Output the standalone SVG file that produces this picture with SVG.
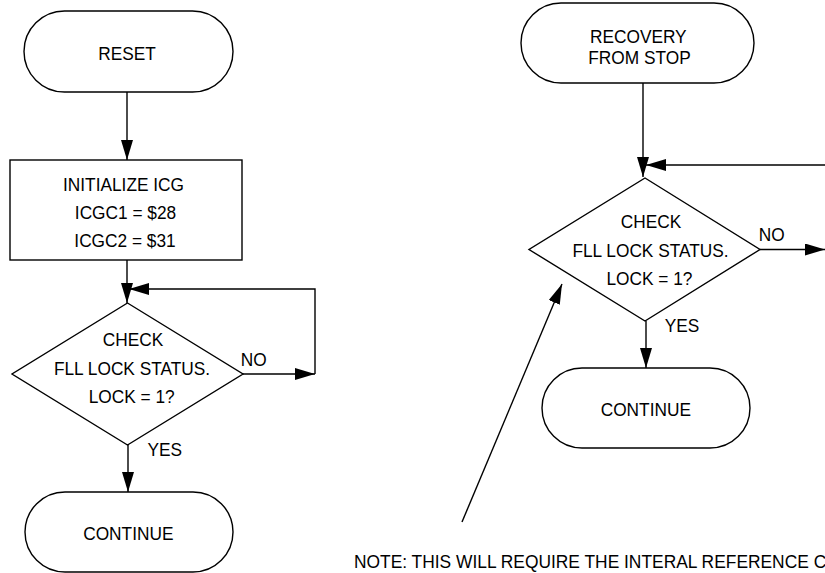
<svg xmlns="http://www.w3.org/2000/svg" width="825" height="573" viewBox="0 0 825 573">
<style>
.sh{fill:#fff;stroke:#000;stroke-width:1.4}
.ln{fill:none;stroke:#000;stroke-width:1.4}
text{font-family:"Liberation Sans",Arial,Helvetica,sans-serif;font-size:19px;fill:#000;text-anchor:middle}
.l{text-anchor:start}
</style>
<defs>
<marker id="ah" viewBox="0 0 20 12" refX="20" refY="6" markerWidth="20" markerHeight="12" markerUnits="userSpaceOnUse" orient="auto">
<path d="M0,0 L20,6 L0,12 Z" fill="#000"/>
</marker>
</defs>
<rect width="825" height="573" fill="#fff"/>
<g id="connectors">
<path class="ln" d="M127,92 V160" marker-end="url(#ah)"/>
<path class="ln" d="M127,260 V303" marker-end="url(#ah)"/>
<path class="ln" d="M243,374 H315" marker-end="url(#ah)"/>
<path class="ln" d="M315,374 V289 H129" marker-end="url(#ah)"/>
<path class="ln" d="M128,445 V492" marker-end="url(#ah)"/>
<path class="ln" d="M643,83 V177" marker-end="url(#ah)"/>
<path class="ln" d="M825,165 H646" marker-end="url(#ah)"/>
<path class="ln" d="M760,249.5 H825" marker-end="url(#ah)"/>
<path class="ln" d="M646,321 V368" marker-end="url(#ah)"/>
<path class="ln" d="M462,522 L562,284" marker-end="url(#ah)"/>
</g>
<g id="reset">
<rect class="sh" x="24" y="11" width="209" height="81" rx="40.5" ry="40.5"/>
<text transform="translate(127,60) scale(0.91,1)">RESET</text>
</g>
<g id="init">
<rect class="sh" x="10" y="160" width="232" height="100"/>
<text transform="translate(123.5,190.5) scale(0.91,1)">INITIALIZE ICG</text>
<text transform="translate(125.5,218.5) scale(0.91,1)">ICGC1 = $28</text>
<text transform="translate(125,246.5) scale(0.91,1)">ICGC2 = $31</text>
</g>
<g id="check1">
<polygon class="sh" points="127.5,303 243,374 127.5,445 12,374"/>
<text transform="translate(133,346) scale(0.91,1)">CHECK</text>
<text transform="translate(132,374.5) scale(0.91,1)">FLL LOCK STATUS.</text>
<text transform="translate(131.7,402.5) scale(0.91,1)">LOCK = 1?</text>
</g>
<g id="labels1">
<text transform="translate(253.7,365.5) scale(0.91,1)">NO</text>
<text transform="translate(164.7,455.5) scale(0.91,1)">YES</text>
</g>
<g id="continue1">
<rect class="sh" x="25" y="492" width="208" height="80" rx="40" ry="40"/>
<text transform="translate(128.3,539.5) scale(0.91,1)">CONTINUE</text>
</g>
<g id="recovery">
<rect class="sh" x="521" y="3" width="233" height="80" rx="40" ry="40"/>
<text transform="translate(638.3,43) scale(0.91,1)">RECOVERY</text>
<text transform="translate(639.5,64) scale(0.91,1)">FROM STOP</text>
</g>
<g id="check2">
<polygon class="sh" points="645,178 760,249.5 645,321 529,249.5"/>
<text transform="translate(651,228) scale(0.91,1)">CHECK</text>
<text transform="translate(650.5,256.5) scale(0.91,1)">FLL LOCK STATUS.</text>
<text transform="translate(649.5,285) scale(0.91,1)">LOCK = 1?</text>
</g>
<g id="labels2">
<text transform="translate(771.7,240.5) scale(0.91,1)">NO</text>
<text transform="translate(682,332) scale(0.91,1)">YES</text>
</g>
<g id="continue2">
<rect class="sh" x="542" y="368" width="208" height="80" rx="40" ry="40"/>
<text transform="translate(645.8,416) scale(0.91,1)">CONTINUE</text>
</g>
<g id="note">
<text class="l" transform="translate(354,568) scale(0.915,1)">NOTE: THIS WILL REQUIRE THE INTERAL REFERENCE C</text>
</g>
</svg>
